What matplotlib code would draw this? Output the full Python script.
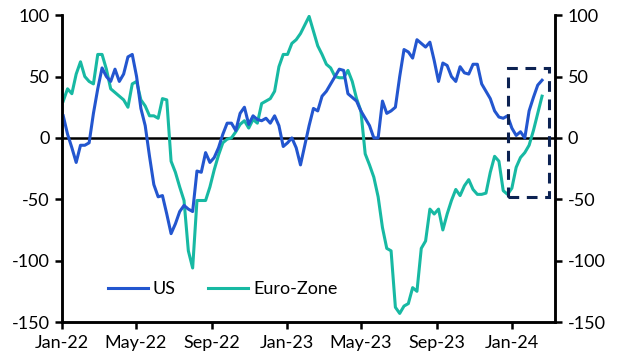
import numpy as np
import pandas as pd
import matplotlib
matplotlib.use("Agg")
import matplotlib.pyplot as plt
import matplotlib.dates as mdates
from matplotlib.patches import Rectangle

plt.rcParams['font.family'] = ['Lato', 'DejaVu Sans']
plt.rcParams['axes.unicode_minus'] = False

# weekly readings, first week starting 3 Jan 2022
semanas = pd.date_range("2022-01-03", periods=112, freq="7D")

us = [18, 3, -8, -20, -6, -6, -4, 20, 40, 57,
      50, 46, 56, 46, 52, 66, 68, 50, 24, 10,
      -15, -38, -48, -47, -62, -78, -70, -60, -55, -58,
      -60, -27, -28, -12, -20, -16, -8, 3, 12, 12,
      6, 20, 25, 11, 18, 15, 14, 16, 12, 18,
      10, -7, -4, 0, -8, -22, -6, 10, 24, 22,
      34, 38, 44, 50, 56, 55, 36, 33, 30, 22,
      16, 10, 0, 0, 30, 20, 22, 25, 50, 72,
      70, 65, 80, 77, 74, 78, 63, 46, 61, 59,
      50, 46, 58, 53, 52, 60, 60, 44, 38, 32,
      22, 17, 16, 18, 8, 2, 5, 0, 22, 33,
      43, 47]

euro = [30, 40, 36, 52, 62, 50, 46, 44, 68, 68,
        56, 40, 37, 34, 31, 25, 44, 46, 31, 26,
        18, 18, 16, 32, 31, -19, -28, -40, -51, -92,
        -106, -51, -51, -51, -40, -26, -14, -4, -1, 0,
        5, 11, 14, 8, 15, 12, 28, 30, 32, 38,
        58, 68, 68, 77, 80, 85, 92, 99, 87, 75,
        68, 60, 57, 50, 49, 49, 55, 46, 32, 22,
        -13, -22, -32, -48, -73, -90, -92, -138, -143, -137,
        -135, -122, -125, -90, -84, -58, -62, -58, -75, -62,
        -51, -42, -47, -39, -34, -42, -46, -46, -45, -28,
        -15, -19, -43, -46, -41, -24, -16, -12, -6, 6,
        20, 34]

caixa_inicio = pd.Timestamp("2023-12-25")
caixa_fim = pd.Timestamp("2024-03-01")
caixa_baixo, caixa_alto = -48, 57

azul = '#2356cf'
verde = '#17b9a3'
marinho = '#0c2252'

fig = plt.figure(figsize=(6.17, 3.61), dpi=100)
ax = fig.add_axes([0.1005, 0.108, 0.799, 0.850])
ax2 = ax.twinx()

ax.plot(semanas, us, color=azul, lw=2.2, label='US', zorder=3)
ax.plot(semanas, euro, color=verde, lw=2.2, label='Euro-Zone', zorder=2)
ax.axhline(0, color='black', lw=1.8, zorder=1)

x0 = mdates.date2num(caixa_inicio)
x1 = mdates.date2num(caixa_fim)
ax.add_patch(Rectangle((x0, caixa_baixo), x1 - x0, caixa_alto - caixa_baixo,
                       fill=False, ec=marinho, lw=2.2, ls=(0, (3.5, 2.5)), zorder=4))

ax.set_xlim(pd.Timestamp("2022-01-01"), pd.Timestamp("2024-03-11"))
for a in (ax, ax2):
    a.set_ylim(-150, 100)
    a.set_yticks([-150, -100, -50, 0, 50, 100])
    for s in a.spines.values():
        s.set_linewidth(1.8)
    a.spines['top'].set_visible(False)
    a.tick_params(axis='both', direction='out', length=5, width=1.8,
                  labelsize=13, pad=4)

ax.xaxis.set_major_locator(mdates.MonthLocator(bymonth=[1, 5, 9]))
ax.xaxis.set_major_formatter(mdates.DateFormatter('%b-%y'))

ax.legend(loc='center left', bbox_to_anchor=(0.093, 0.107), ncol=2,
          frameon=False, fontsize=13, handlelength=2.2, handletextpad=0.3,
          columnspacing=1.8, borderpad=0, borderaxespad=0)

fig.savefig('out.png', dpi=100)
